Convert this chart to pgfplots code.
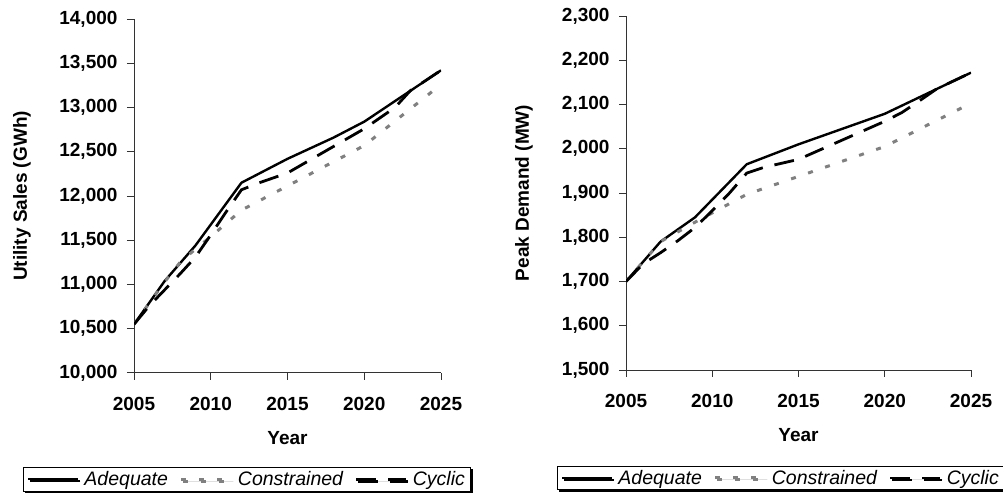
\documentclass[border=0pt]{standalone}
\usepackage{fontspec}
\setmainfont{Liberation Sans}
\usepackage{pgfplots}
\pgfplotsset{compat=1.18}
\usetikzlibrary{shadows}

\definecolor{cgray}{RGB}{128,128,128}

\pgfplotsset{
  panel/.style={
    scale only axis,
    height=354bp,
    axis x line*=bottom,
    axis y line*=left,
    axis line style={black!80, line width=1bp, -},
    xmin=2005, xmax=2025,
    xtick={2005,2010,2015,2020,2025},
    tick align=outside,
    major tick length=7bp,
    tick style={black!80, line width=1bp},
    scaled y ticks=false,
    /pgf/number format/assume math mode=true,
    ticklabel style={font=\fontsize{19bp}{22bp}\selectfont\bfseries},
    xticklabel style={/pgf/number format/1000 sep={}, yshift=-14bp},
    yticklabel style={/pgf/number format/1000 sep={,}, xshift=-6bp},
    label style={font=\fontsize{19bp}{22bp}\selectfont\bfseries},
    xlabel={Year},
    xlabel style={at={(axis description cs:0.5,-0.184)}, anchor=center},
    legend columns=3,
    legend style={
      draw=black, line width=0.8bp, fill=white,
      font=\fontsize{19.5bp}{22bp}\selectfont\itshape,
      anchor=center,
      inner xsep=4bp, inner ysep=2bp,
      drop shadow={shadow xshift=2bp, shadow yshift=-2bp, opacity=1, fill=black},
      /tikz/every odd column/.append style={column sep=3bp},
      /tikz/every even column/.append style={column sep=10bp},
    },
    legend cell align=left,
    legend image code/.code={\draw[#1, line cap=butt] (0bp,0bp) -- (50bp,0bp);},
  },
  adeq/.style={black, line width=2.4bp, line join=round},
  cons/.style={cgray, line width=3bp, dash pattern=on 5bp off 13bp},
  cyc/.style={black, line width=2.8bp, dash pattern=on 20bp off 12bp},
}

\begin{document}
\begin{tikzpicture}
\useasboundingbox (0,0) rectangle (1003bp,496bp);

\begin{axis}[panel,
  at={(134bp,123bp)}, anchor=south west,
  width=307bp,
  ymin=10000, ymax=14000,
  ytick={10000,10500,...,14000},
  ylabel={Utility Sales (GWh)},
  ylabel style={at={(axis description cs:-0.365,0.5)}, anchor=center},
  legend style={at={(0.368,-0.30)}},
]
\addplot[adeq] coordinates {(2005,10550) (2007,11040) (2009,11440) (2012,12150) (2015,12420) (2018,12660) (2020,12840) (2025,13420)};
\addplot[cons] coordinates {(2005,10550) (2007,11030) (2008,11250) (2009,11400) (2010,11540) (2011,11690) (2012,11840) (2020,12570) (2025,13260)};
\addplot[cyc] coordinates {(2005,10550) (2006,10760) (2007,10940) (2008,11120) (2009,11310) (2010,11560) (2011,11820) (2012,12070) (2013,12140) (2015,12260) (2018,12560) (2020,12760) (2022,13000) (2023,13190) (2025,13420)};
\legend{Adequate, Constrained, Cyclic}
\end{axis}

\begin{axis}[panel,
  at={(626bp,126bp)}, anchor=south west,
  width=345bp,
  ymin=1500, ymax=2300,
  ytick={1500,1600,...,2300},
  ylabel={Peak Demand (MW)},
  ylabel style={at={(axis description cs:-0.296,0.5)}, anchor=center},
  legend style={at={(0.449,-0.305)}},
]
\addplot[adeq] coordinates {(2005,1700) (2007,1790) (2009,1845) (2012,1965) (2015,2010) (2020,2079) (2025,2172)};
\addplot[cons] coordinates {(2005,1700) (2007,1790) (2008,1812) (2009,1834) (2010,1855) (2011,1876) (2012,1897) (2020,2005) (2025,2103)};
\addplot[cyc] coordinates {(2005,1700) (2006,1740) (2007,1765) (2008,1792) (2009,1822) (2010,1860) (2011,1900) (2012,1945) (2013,1958) (2015,1976) (2020,2062) (2021,2082) (2022,2108) (2023,2135) (2025,2172)};
\legend{Adequate, Constrained, Cyclic}
\end{axis}
\end{tikzpicture}
\end{document}
